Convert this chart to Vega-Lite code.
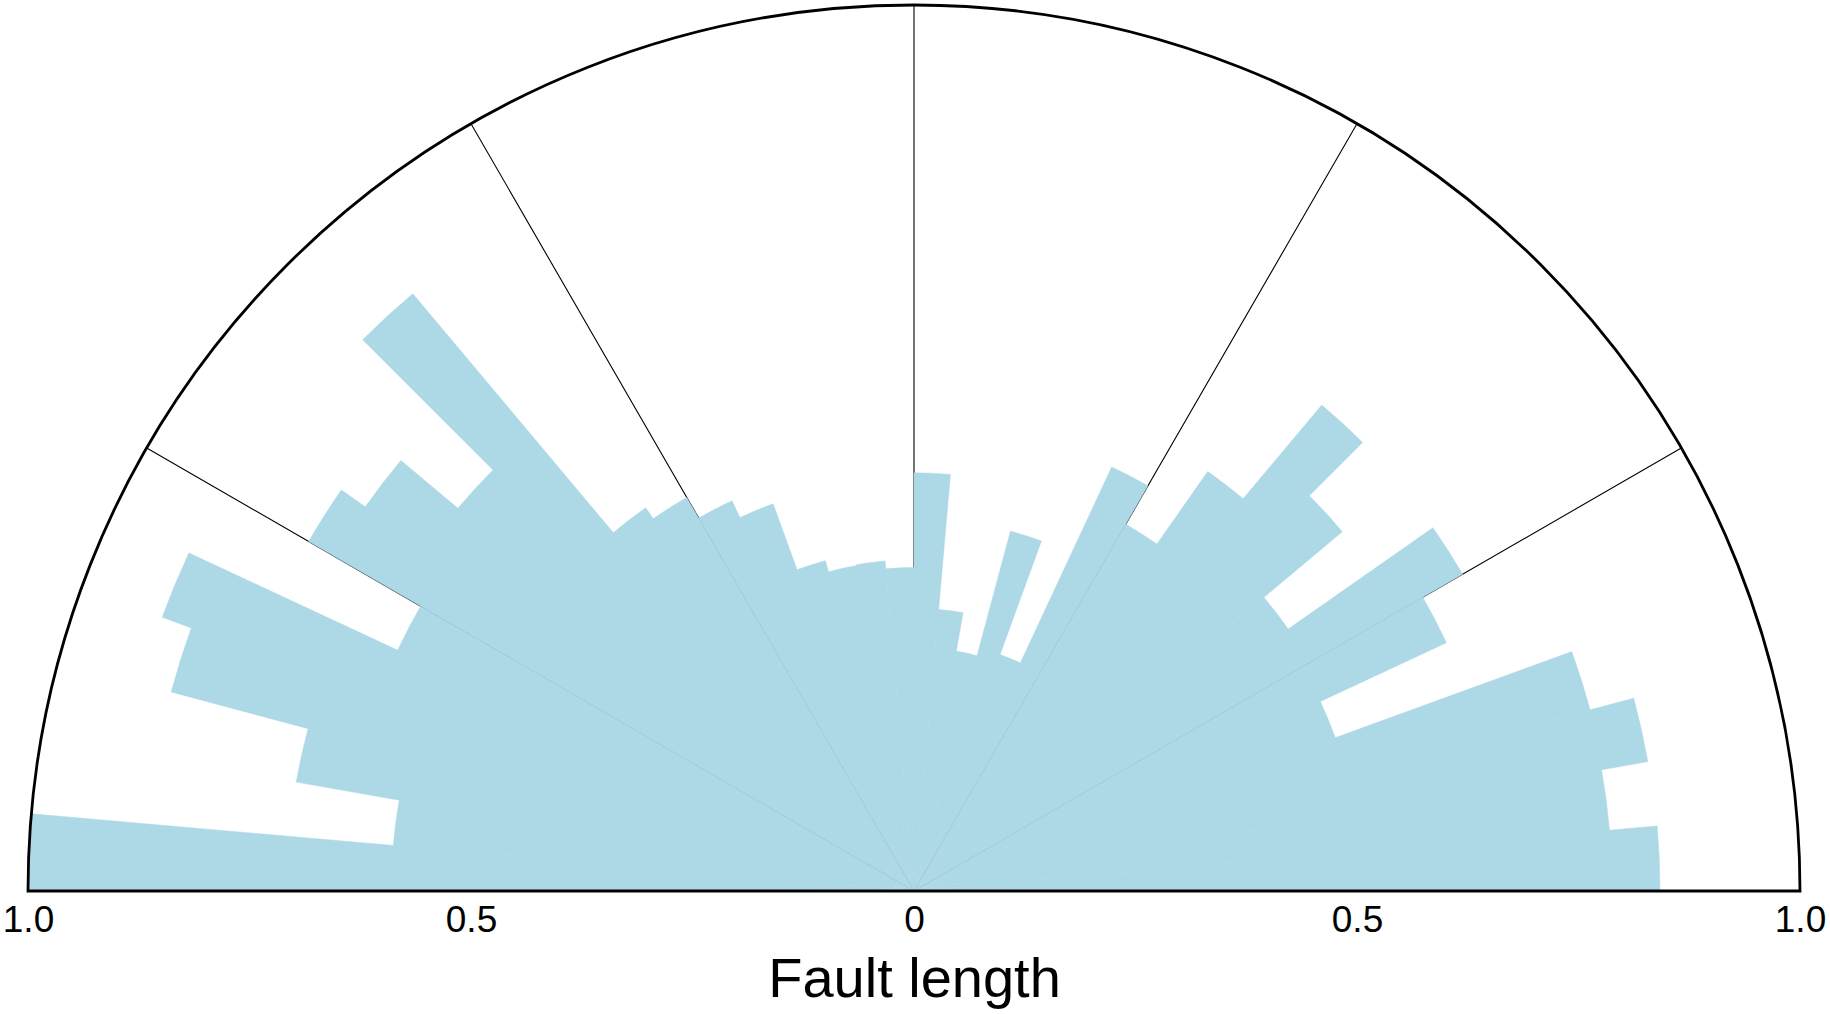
{
  "$schema": "https://vega.github.io/schema/vega-lite/v6.json",
  "width": 1772,
  "height": 886,
  "autosize": {"type": "none"},
  "padding": {"left": 28, "top": 5, "right": 30, "bottom": 123},
  "background": "white",
  "config": {"view": {"stroke": null}},
  "datasets": {
    "bins": [
      {"a0": -90, "a1": -85, "r": 1.0},
      {"a0": -85, "a1": -80, "r": 0.59},
      {"a0": -80, "a1": -75, "r": 0.708},
      {"a0": -75, "a1": -70, "r": 0.868},
      {"a0": -70, "a1": -65, "r": 0.903},
      {"a0": -65, "a1": -60, "r": 0.643},
      {"a0": -60, "a1": -55, "r": 0.789},
      {"a0": -55, "a1": -50, "r": 0.756},
      {"a0": -50, "a1": -45, "r": 0.672},
      {"a0": -45, "a1": -40, "r": 0.88},
      {"a0": -40, "a1": -35, "r": 0.528},
      {"a0": -35, "a1": -30, "r": 0.513},
      {"a0": -30, "a1": -25, "r": 0.486},
      {"a0": -25, "a1": -20, "r": 0.465},
      {"a0": -20, "a1": -15, "r": 0.386},
      {"a0": -15, "a1": -10, "r": 0.373},
      {"a0": -10, "a1": -5, "r": 0.374},
      {"a0": -5, "a1": 0, "r": 0.365},
      {"a0": 0, "a1": 5, "r": 0.472},
      {"a0": 5, "a1": 10, "r": 0.319},
      {"a0": 10, "a1": 15, "r": 0.275},
      {"a0": 15, "a1": 20, "r": 0.4205},
      {"a0": 20, "a1": 25, "r": 0.284},
      {"a0": 25, "a1": 30, "r": 0.528},
      {"a0": 30, "a1": 35, "r": 0.478},
      {"a0": 35, "a1": 40, "r": 0.578},
      {"a0": 40, "a1": 45, "r": 0.716},
      {"a0": 45, "a1": 50, "r": 0.631},
      {"a0": 50, "a1": 55, "r": 0.5155},
      {"a0": 55, "a1": 60, "r": 0.715},
      {"a0": 60, "a1": 65, "r": 0.663},
      {"a0": 65, "a1": 70, "r": 0.506},
      {"a0": 70, "a1": 75, "r": 0.79},
      {"a0": 75, "a1": 80, "r": 0.841},
      {"a0": 80, "a1": 85, "r": 0.788},
      {"a0": 85, "a1": 90, "r": 0.842}
    ],
    "grid": [{"a": -60}, {"a": -30}, {"a": 0}, {"a": 30}, {"a": 60}],
    "frame": [{"a0": -90, "a1": 90, "r": 1}]
  },
  "encoding": {
    "x": {
      "datum": 0,
      "type": "quantitative",
      "scale": {"domain": [-1, 1], "nice": false, "zero": false},
      "axis": {
        "values": [-1, -0.5, 0, 0.5, 1],
        "labelExpr": "datum.value == 0 ? '0' : format(abs(datum.value), '.1f')",
        "domain": false,
        "ticks": false,
        "tickSize": 0,
        "grid": false,
        "labelFont": "Liberation Sans",
        "labelFontSize": 37,
        "labelColor": "black",
        "labelPadding": 11,
        "labelFlush": false,
        "labelOverlap": false,
        "title": "Fault length",
        "titleFont": "Liberation Sans",
        "titleFontSize": 56,
        "titleFontWeight": "normal",
        "titleColor": "black",
        "titlePadding": 14
      }
    },
    "y": {
      "datum": 0,
      "type": "quantitative",
      "scale": {"domain": [0, 1], "nice": false},
      "axis": null
    }
  },
  "layer": [
    {
      "data": {"name": "grid"},
      "mark": {"type": "arc", "fill": null, "stroke": "black", "strokeWidth": 1.1},
      "encoding": {
        "theta": {"field": "a", "type": "quantitative", "stack": null, "scale": {"domain": [-180, 180], "range": [-3.141592653589793, 3.141592653589793]}},
        "theta2": {"field": "a"},
        "radius": {"datum": 1, "type": "quantitative", "scale": {"type": "linear", "domain": [0, 1], "range": [0, 886], "zero": true}}
      }
    },
    {
      "data": {"name": "bins"},
      "mark": {"type": "arc", "fill": "#add8e6", "stroke": "#add8e6", "strokeWidth": 0.5},
      "encoding": {
        "theta": {"field": "a0", "type": "quantitative", "stack": null},
        "theta2": {"field": "a1"},
        "radius": {"field": "r", "type": "quantitative"}
      }
    },
    {
      "data": {"name": "frame"},
      "mark": {"type": "arc", "fill": null, "stroke": "black", "strokeWidth": 2.8, "strokeJoin": "miter"},
      "encoding": {
        "theta": {"field": "a0", "type": "quantitative", "stack": null},
        "theta2": {"field": "a1"},
        "radius": {"field": "r", "type": "quantitative"}
      }
    }
  ]
}
